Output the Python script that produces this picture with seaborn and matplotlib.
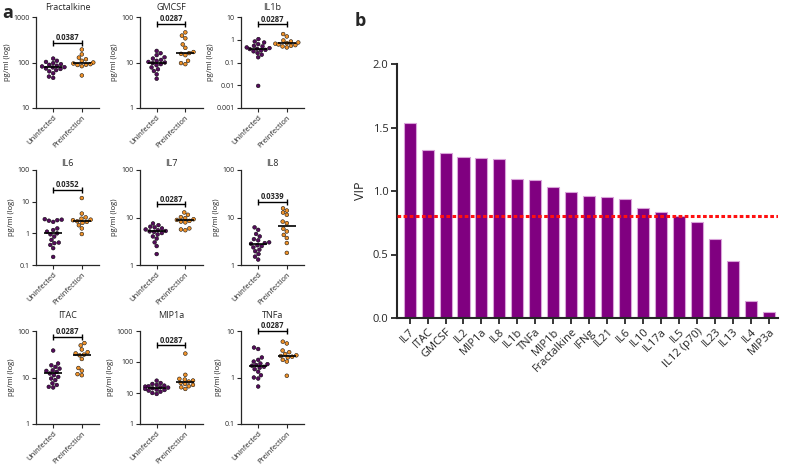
import matplotlib
matplotlib.use('Agg')
import numpy as np
import pandas as pd
import matplotlib.pyplot as plt
import seaborn as sns
from matplotlib.ticker import FuncFormatter, NullLocator

sns.set_style('ticks')
plt.rcParams['font.family'] = ['Open Sans', 'DejaVu Sans']

# --- panel a: cytokine levels (pg/ml) ---
groups = ['Uninfected', 'Preinfection']

fract_u = [122, 109, 103, 97, 92, 89, 85, 82, 79, 78, 74, 72, 68, 64, 58, 49, 46]
fract_p = [193, 151, 128, 118, 109, 100, 95, 92, 89, 88, 83, 52]

gmcsf_u = [18, 16, 14.5, 13, 12.2, 11.4, 10.9, 10.3, 10, 9.7, 9.2, 8.7, 7.8, 7.1, 6.5, 5.5, 4.4]
gmcsf_p = [46, 39, 34, 25, 21, 17, 16.1, 15.5, 14.5, 10.9, 9.7, 9.2]

il1b_u = [1.07, 0.84, 0.76, 0.64, 0.54, 0.51, 0.46, 0.43, 0.40, 0.39, 0.36, 0.34, 0.31, 0.26, 0.22, 0.17, 0.0094]
il1b_p = [1.78, 1.4, 0.93, 0.84, 0.76, 0.71, 0.67, 0.62, 0.58, 0.54, 0.51, 0.46]

il6_u = [2.8, 2.7, 2.6, 2.5, 2.3, 1.43, 1.27, 1.13, 1.0, 0.93, 0.79, 0.62, 0.51, 0.49, 0.43, 0.34, 0.18]
il6_p = [13, 4.2, 3.2, 2.9, 2.7, 2.6, 2.4, 2.3, 2.15, 1.8, 1.43, 0.95]

il7_u = [7.5, 6.9, 6.4, 6.2, 5.9, 5.6, 5.4, 5.2, 5.1, 4.97, 4.7, 4.4, 4.0, 3.6, 3.0, 2.5, 1.7]
il7_p = [12.8, 11.4, 10.2, 9.7, 9.2, 8.9, 8.5, 8.2, 7.9, 5.9, 5.6, 5.4]

il8_u = [6.2, 5.5, 4.5, 4.0, 3.5, 3.3, 3.0, 2.9, 2.8, 2.6, 2.5, 2.35, 2.1, 1.95, 1.7, 1.5, 1.3]
il8_p = [15.6, 14, 12.7, 11.4, 8.2, 7.6, 5.8, 5.1, 4.3, 3.7, 2.9, 1.8]

itac_u = [38, 20, 18.3, 16.9, 15.5, 14.3, 13.9, 13.2, 12.2, 11.2, 10.3, 9.5, 8.8, 7.5, 6.9, 6.3, 6.1]
itac_p = [55, 49, 40, 35, 33, 31, 30, 25, 16, 14, 11.8, 11.2]

mip1a_u = [25, 21, 19.6, 18.2, 17.3, 16.5, 16.1, 15.3, 14.9, 14.2, 13.5, 12.8, 12.5, 11.9, 11.0, 10, 9.3]
mip1a_p = [187, 38.6, 28.6, 27.2, 25.2, 23.4, 21.2, 19.6, 18.2, 16.5, 15.3, 13.5]

tnfa_u = [4.4, 4.1, 2.7, 2.4, 2.2, 2.0, 1.94, 1.85, 1.79, 1.70, 1.62, 1.51, 1.33, 1.12, 1.0, 0.95, 0.64]
tnfa_p = [5.9, 5.4, 3.8, 3.5, 3.2, 3.0, 2.9, 2.8, 2.7, 2.4, 2.2, 1.09]

titles = ['Fractalkine', 'GMCSF', 'IL1b', 'IL6', 'IL7', 'IL8', 'ITAC', 'MIP1a', 'TNFa']
ylims = [(10, 1000), (1, 100), (0.001, 10), (0.1, 100), (1, 100), (1, 100),
         (1, 100), (1, 1000), (0.1, 10)]
pvals = ['0.0387', '0.0287', '0.0287', '0.0352', '0.0287', '0.0339',
         '0.0287', '0.0287', '0.0287']
bar_y = [270, 70, 4.9, 23.7, 18.9, 21.5, 74, 350, 10]

# --- panel b: VIP scores ---
cytokines = ['IL7', 'ITAC', 'GMCSF', 'IL2', 'MIP1a', 'IL8', 'IL1b', 'TNFa', 'MIP1b',
             'Fractalkine', 'IFNg', 'IL21', 'IL6', 'IL10', 'IL17a', 'IL5', 'IL12 (p70)',
             'IL23', 'IL13', 'IL4', 'MIP3a']
vip = [1.535, 1.325, 1.30, 1.27, 1.26, 1.25, 1.095, 1.087, 1.03, 0.99, 0.963, 0.953,
       0.937, 0.868, 0.837, 0.806, 0.753, 0.622, 0.449, 0.134, 0.05]
vip_cut = 0.8

uninf_list = [fract_u, gmcsf_u, il1b_u, il6_u, il7_u, il8_u, itac_u, mip1a_u, tnfa_u]
preinf_list = [fract_p, gmcsf_p, il1b_p, il6_p, il7_p, il8_p, itac_p, mip1a_p, tnfa_p]

purple = '#550c5c'
orange = '#ef922a'

W, H = 786, 468
fig = plt.figure(figsize=(W / 100, H / 100), dpi=100)

col_left = [36, 139.5, 241]
row_top = [17, 170, 331]
row_bot = [108, 265, 424]
title_pad = [5, 3, 9]
ax_w = 63

for i in range(9):
    r, c = divmod(i, 3)
    ax = fig.add_axes([col_left[c] / W, (H - row_bot[r]) / H, ax_w / W,
                       (row_bot[r] - row_top[r]) / H])
    u, p = uninf_list[i], preinf_list[i]
    df = pd.DataFrame({'group': ['Uninfected'] * len(u) + ['Preinfection'] * len(p),
                       'value': u + p})
    sns.swarmplot(data=df, x='group', y='value', hue='group', order=groups,
                  palette={'Uninfected': purple, 'Preinfection': orange},
                  size=2.7, edgecolor='black', linewidth=0.35, legend=False,
                  log_scale=True, ax=ax)
    for xi, vals in enumerate([u, p]):
        ax.hlines(np.median(vals), xi - 0.32, xi + 0.32, color='black', lw=1.2, zorder=5)

    lo, hi = ylims[i]
    ax.set_ylim(lo, hi)
    ax.set_xlim(-0.6, 1.6)
    decades = 10.0 ** np.arange(np.log10(lo), np.log10(hi) + 0.5)
    ax.set_yticks(decades)
    ax.yaxis.set_major_formatter(FuncFormatter(lambda v, pos: f'{v:g}'))
    ax.yaxis.set_minor_locator(NullLocator())

    y = bar_y[i]
    ax.plot([0, 1], [y, y], color='black', lw=1, marker='|', markersize=4,
            markeredgewidth=1, clip_on=False, zorder=6)
    ax.text(0.5, y * 1.04, pvals[i], ha='center', va='bottom', fontsize=5.5,
            fontweight='bold', clip_on=False)

    ax.set_title(titles[i], fontsize=6.5, pad=title_pad[r])
    ax.set_xlabel('')
    ax.set_ylabel('pg/ml (log)', fontsize=5.5, labelpad=2)
    ax.set_xticks([0, 1])
    ax.set_xticklabels(groups, rotation=45, ha='right', rotation_mode='anchor',
                       fontsize=5.5)
    ax.tick_params(axis='both', labelsize=5, length=3, width=0.8, pad=1.5)
    ax.tick_params(axis='x', labelsize=5.5)
    for s in ['left', 'bottom']:
        ax.spines[s].set_linewidth(0.9)
    sns.despine(ax=ax)

# bar chart
axb = fig.add_axes([397 / W, (H - 318) / H, 381 / W, 254 / H])
sns.barplot(x=cytokines, y=vip, color='#800080', saturation=1, width=0.67,
            edgecolor='#d9a3d9', linewidth=0.8, ax=axb)
axb.axhline(vip_cut, color='#ff1010', ls=(0, (1.2, 0.8)), lw=2.2, zorder=5)
axb.set_ylim(0, 2.0)
axb.set_xlim(-0.7, 20.5)
axb.set_yticks(np.arange(0, 2.01, 0.5))
axb.yaxis.set_major_formatter(FuncFormatter(lambda v, pos: f'{v:.1f}'))
axb.set_ylabel('VIP', fontsize=9, labelpad=4)
axb.set_xticks(range(len(cytokines)))
axb.set_xticklabels(cytokines, rotation=45, ha='right', rotation_mode='anchor',
                    fontsize=8)
axb.tick_params(axis='both', labelsize=8, length=4, width=1.3, pad=2)
for s in ['left', 'bottom']:
    axb.spines[s].set_linewidth(1.5)
sns.despine(ax=axb)

fig.text(2 / W, 1 - 13 / H, 'a', fontsize=13, fontweight='bold', va='center')
fig.text(355 / W, 1 - 21 / H, 'b', fontsize=13, fontweight='bold', va='center')

fig.savefig('out.png', dpi=100)
